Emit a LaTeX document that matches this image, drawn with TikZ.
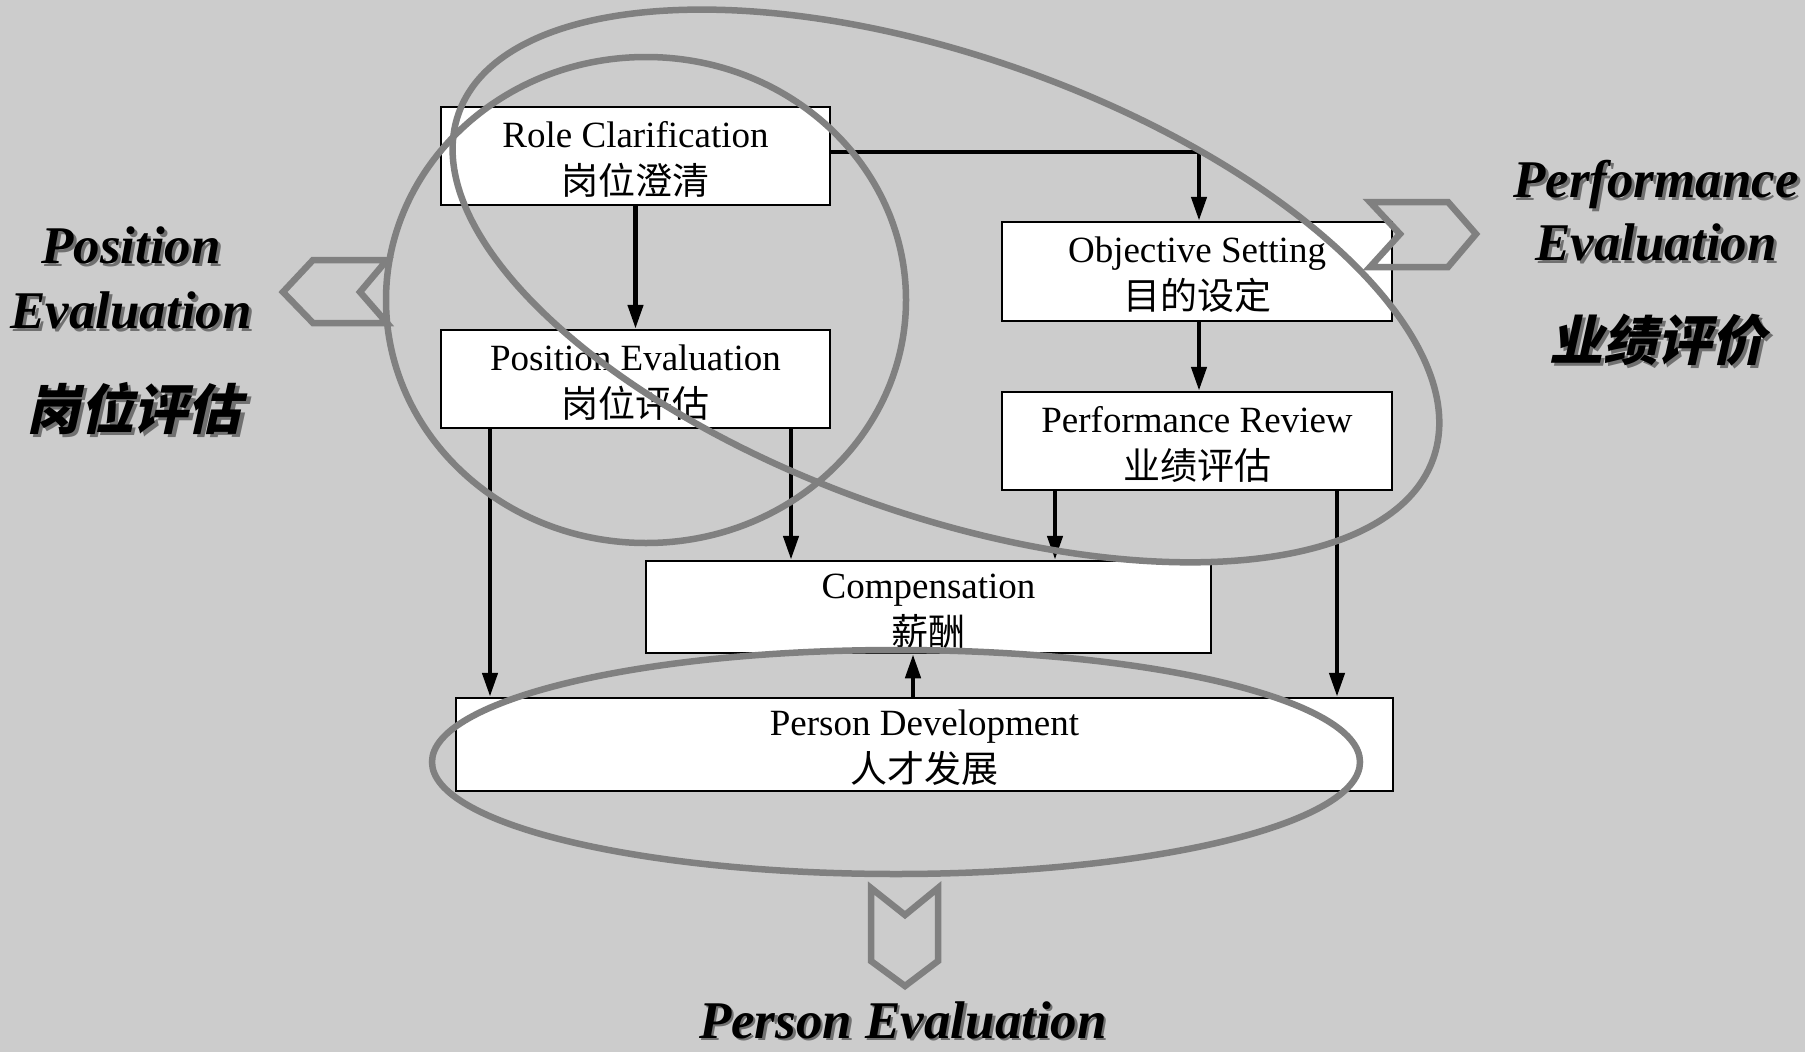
\documentclass[tikz,border=0pt]{standalone}
\usepackage{fontspec}
\setmainfont{Liberation Serif}
\newfontfamily\cjk{Noto Sans CJK SC}
\newfontfamily\cjkbi{Noto Sans CJK SC}[FakeSlant=0.22]
\usetikzlibrary{arrows.meta}
\definecolor{bg}{HTML}{CCCCCC}
\definecolor{ringc}{HTML}{808080}
\definecolor{shade}{HTML}{707070}
\newcommand{\upstrut}{\rule{0pt}{33pt}}
\begin{document}
\begin{tikzpicture}[x=1pt,y=-1pt,
  box/.style={draw=black, fill=white, line width=2.5pt, inner sep=0pt, align=center,
              font=\fontsize{37}{47}\selectfont},
  link/.style={line width=4.5pt, -{Triangle[length=24pt,width=15pt]}},
  ring/.style={draw=ringc, line width=6.5pt},
  chev/.style={draw=ringc, line width=6.5pt, line join=miter},
  big/.style={font=\fontsize{53}{65}\selectfont\bfseries\itshape, anchor=base, inner sep=0pt},
  bigcjk/.style={font=\fontsize{54}{60}\selectfont\cjkbi\bfseries, anchor=base, inner sep=0pt},
]
\fill[bg] (0,0) rectangle (1805,1052);
\useasboundingbox (0,0) rectangle (1805,1052);

% boxes
\node[box, minimum width=389pt, minimum height=98pt] (rc) at (635.5,156) {\upstrut Role Clarification\\{\cjk 岗位澄清}};
\node[box, minimum width=389pt, minimum height=98pt] (pe) at (635.5,379) {\upstrut Position Evaluation\\{\cjk 岗位评估}};
\node[box, minimum width=390pt, minimum height=99pt] (os) at (1197,271.5) {\upstrut Objective Setting\\{\cjk 目的设定}};
\node[box, minimum width=390pt, minimum height=98pt] (pr) at (1197,441) {\upstrut Performance Review\\{\cjk 业绩评估}};
\node[box, minimum width=565pt, minimum height=92pt] (comp) at (928.5,607) {\upstrut Compensation\\{\cjk 薪酬}};
\node[box, minimum width=937pt, minimum height=93pt] (pd) at (924.5,744.5) {\upstrut Person Development\\{\cjk 人才发展}};

% connectors
\draw[link] (rc) -- (pe);
\draw[link] ([yshift=4pt]rc.east) -| ([xshift=2pt]os.north);
\draw[link] ([xshift=2pt]os.south) -- ([xshift=2pt]pr.north);
\coordinate (a1) at (490,0);
\coordinate (a2) at (791,0);
\coordinate (a3) at (1055,0);
\coordinate (a4) at (1337,0);
\coordinate (a5) at (913,0);
\draw[link] (pe.south -| a1) -- (pd.north -| a1);
\draw[link] (pe.south -| a2) -- (comp.north -| a2);
\draw[link] (pr.south -| a3) -- (comp.north -| a3);
\draw[link] (pr.south -| a4) -- (pd.north -| a4);
\draw[link] (pd.north -| a5) -- (comp.south -| a5);

% chevrons
\draw[chev] (283,292) -- (313,260) -- (387,260) -- (360,292) -- (387,323) -- (313,323) -- cycle;
\draw[chev] (1370,202) -- (1448,202) -- (1476,234) -- (1448,267) -- (1370,267) -- (1400,234) -- cycle;
\draw[chev] (871,888) -- (905,915) -- (938,888) -- (938,961) -- (905,986) -- (871,961) -- cycle;

% ellipses
\coordinate (pc) at (646,300);
\draw[ring] (pc) ellipse [x radius=260pt, y radius=243pt];
\coordinate (fc) at (946,286);
\draw[ring, rotate around={-19.5:(fc)}] (fc) ellipse [x radius=517pt, y radius=229pt];
\coordinate (dc) at (896,762);
\draw[ring] (dc) ellipse [x radius=464pt, y radius=112pt];

% side labels with shadows
\node[big, text=shade] (l1s) at (134,266) {Position};
\node[big] (l1) at (131,263) {Position};
\node[big, text=shade] (l2s) at (134,331) {Evaluation};
\node[big] (l2) at (131,328) {Evaluation};
\node[bigcjk, text=shade] (l3s) at (137,432) {岗位评估};
\node[bigcjk] (l3) at (134,429) {岗位评估};

\node[big, text=shade] (r1s) at (1659,200) {Performance};
\node[big] (r1) at (1656,197) {Performance};
\node[big, text=shade] (r2s) at (1659,263) {Evaluation};
\node[big] (r2) at (1656,260) {Evaluation};
\node[bigcjk, text=shade] (r3s) at (1660,363) {业绩评价};
\node[bigcjk] (r3) at (1657,360) {业绩评价};

\node[big, text=shade] (b1s) at (905.5,1040.5) {Person Evaluation};
\node[big] (b1) at (903,1038) {Person Evaluation};
\end{tikzpicture}
\end{document}
